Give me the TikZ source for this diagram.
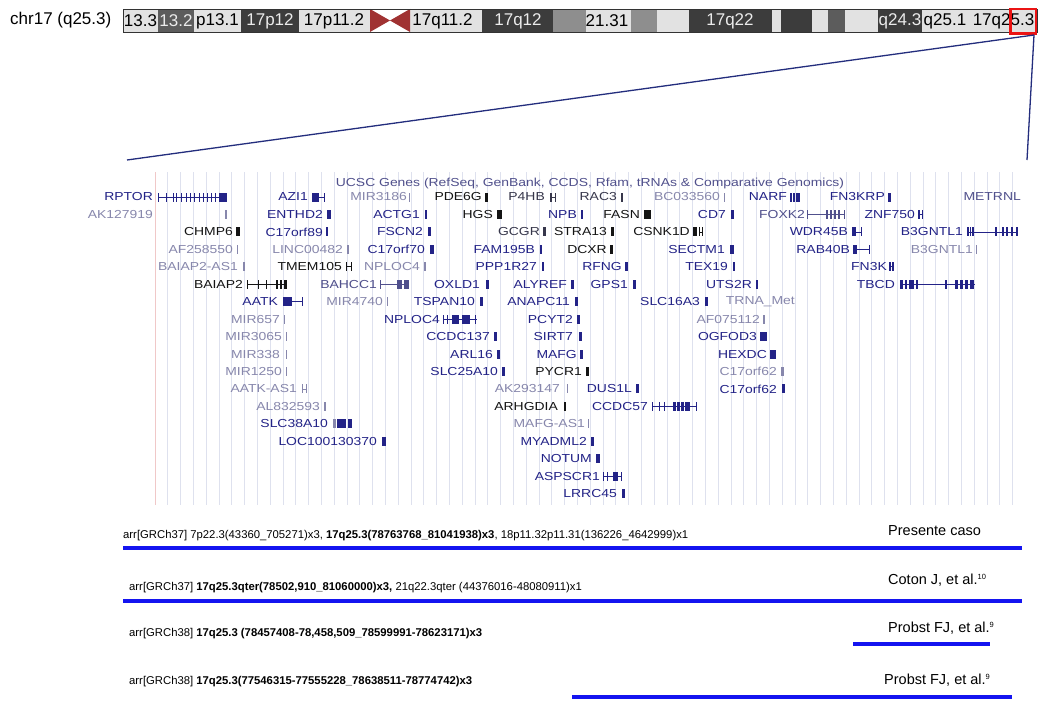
\documentclass[tikz,border=0pt]{standalone}
\usepackage{fontspec}
\setmainfont{Liberation Sans}
\usepackage{graphicx}
\definecolor{lg}{RGB}{226,226,226}
\definecolor{md}{RGB}{92,92,92}
\definecolor{dk}{RGB}{60,60,60}
\definecolor{mg}{RGB}{142,142,142}
\definecolor{cen}{RGB}{160,50,50}
\definecolor{zred}{RGB}{235,20,20}
\definecolor{zline}{RGB}{35,45,125}
\definecolor{gnav}{RGB}{35,35,135}
\definecolor{gblk}{RGB}{20,20,20}
\definecolor{ggry}{RGB}{135,135,172}
\definecolor{gmed}{RGB}{80,80,140}
\definecolor{gdrk}{RGB}{55,55,75}
\definecolor{gridc}{RGB}{222,225,238}
\definecolor{gridp}{RGB}{240,200,200}
\definecolor{barblue}{RGB}{20,20,240}
\definecolor{btw}{RGB}{235,235,235}
\newcommand\gexon[4]{\fill[#1] (#2,{197+17.45*(#4-1)-4.5}) rectangle (#3,{197+17.45*(#4-1)+4.5});}
\newcommand\gintron[4]{\draw[#1,line width=0.8pt] (#2,{197+17.45*(#4-1)}) -- (#3,{197+17.45*(#4-1)});}
\newcommand\refsup[1]{\raisebox{4.5pt}{\fontsize{7.5}{8}\selectfont #1}}
\begin{document}
\begin{tikzpicture}[x=1pt,y=-1pt,
  glab/.style={inner sep=0pt, anchor=east, font=\fontsize{11.6}{12}\selectfont},
  btxt/.style={inner sep=0pt, font=\fontsize{17}{19}\selectfont},
  arrtxt/.style={inner sep=0pt, anchor=west, font=\fontsize{11.3}{13}\selectfont},
  reftxt/.style={inner sep=0pt, anchor=west, font=\fontsize{14.5}{16}\selectfont},
  bar/.style={draw=barblue, line width=4.5pt},
  zl/.style={draw=zline, line width=1.3pt}]
\useasboundingbox (0,0) rectangle (1047,701);
\fill[white] (0,0) rectangle (1047,701);
% ---------- ideogram ----------
\node[btxt, anchor=west] (chr) at (10,20.5) {chr17 (q25.3)};
\foreach \a/\b/\c in {123/158/lg,158/194/md,194/241/lg,241/299/dk,299/370/lg,
  410/482/lg,482/553/dk,553/586/mg,586/631/lg,631/657/mg,657/689/lg,689/772/dk,
  772/781/lg,781/812/dk,812/828/lg,828/845/md,845/878/lg,878/922/dk,922/968/lg,968/1037/lg}
  {\fill[\c] (\a,9) rectangle (\b,32);}
\fill[cen] (370,9) -- (390,20.5) -- (370,32) -- cycle;
\fill[cen] (410,9) -- (390,20.5) -- (410,32) -- cycle;
\draw[black!80, line width=0.8pt] (123,9) rectangle (1037,32);
\foreach \xc/\lab/\tc [count=\i] in {140.5/13.3/black,176/13.2/btw,217.5/p13.1/black,270/17p12/btw,
  334/17p11.2/black,442.5/17q11.2/black,518/17q12/btw,607/21.31/black,730/17q22/btw,
  900/q24.3/btw,945/q25.1/black,1003.5/17q25.3/black}
  {\node[btxt, text=\tc] (band\i) at (\xc,21) {\lab};}
\node[draw=zred, line width=2.5pt, minimum width=25.5pt, minimum height=24.5pt, inner sep=0pt] (zbox) at (1023,21.5) {};
\coordinate (pl) at (127,160);
\coordinate (pr) at (1027,160);
\draw[zl] ([xshift=-3pt]zbox.south east) -- (pl);
\draw[zl] ([xshift=-3pt]zbox.south east) -- (pr);
% ---------- gene panel ----------
\foreach \k in {1,...,67}
  {\draw[gridc, line width=0.8pt] ({155+12.8*\k},172) -- ({155+12.8*\k},505);}
\draw[gridp, line width=0.9pt] (155,172) -- (155,505);
\node[font=\fontsize{11.6}{12}\selectfont, text=gmed, inner sep=0pt] (title) at (590,183)
  {\scalebox{1.2}[1]{UCSC Genes (RefSeq, GenBank, CCDS, Rfam, tRNAs \& Comparative Genomics)}};
\foreach \xr/\r/\c/\lab/\gs/\ge [count=\i] in {
153/1/gnav/RPTOR/0/0, 308/1/gnav/AZI1/0/0, 407/1/ggry/MIR3186/409/410.2, 482/1/gblk/PDE6G/485/488,
545/1/gdrk/P4HB/0/0, 617/1/gdrk/RAC3/621/623, 720/1/ggry/BC033560/724/725.2, 787/1/gnav/NARF/0/0,
885/1/gnav/FN3KRP/888/891, 1021/1/gmed/METRNL/0/0,
153/2/ggry/AK127919/225/226.5, 323/2/gnav/ENTHD2/327/330.5, 420/2/gnav/ACTG1/425/427, 493/2/gblk/HGS/497/502,
577/2/gnav/NPB/581/583, 640/2/gblk/FASN/644/651, 726/2/gnav/CD7/731/734, 805/2/gmed/FOXK2/0/0,
915/2/gnav/ZNF750/0/0,
233/3/gblk/CHMP6/236/240, 323/3/gnav/C17orf89/326/328, 423/3/gnav/FSCN2/428/431, 540/3/gdrk/GCGR/543/546,
607/3/gblk/STRA13/611/614, 690/3/gblk/CSNK1D/0/0, 848/3/gnav/WDR45B/0/0, 963/3/gnav/B3GNTL1/0/0,
233/4/ggry/AF258550/237/238.2, 343/4/ggry/LINC00482/347/349, 425/4/gnav/C17orf70/430/434,
535/4/gnav/FAM195B/540/542, 607/4/gblk/DCXR/610/613, 725/4/gnav/SECTM1/730/734, 850/4/gnav/RAB40B/0/0,
973/4/ggry/B3GNTL1/976/977.2,
238/5/ggry/BAIAP2-AS1/243/245, 342/5/gblk/TMEM105/0/0, 420/5/ggry/NPLOC4/424/426, 537/5/gnav/PPP1R27/542/544,
622/5/gnav/RFNG/625/628, 728/5/gnav/TEX19/733/735, 887/5/gnav/FN3K/0/0,
243/6/gblk/BAIAP2/0/0, 377/6/gmed/BAHCC1/0/0, 480/6/gnav/OXLD1/486/489, 567/6/gnav/ALYREF/571/574,
628/6/gnav/GPS1/633/636, 752/6/gnav/UTS2R/756/758, 895/6/gnav/TBCD/0/0,
278/7/gnav/AATK/0/0, 383/7/ggry/MIR4740/387/388.2, 475/7/gnav/TSPAN10/480/483, 570/7/gnav/ANAPC11/575/578,
700/7/gnav/SLC16A3/705/708, 795/7/ggry/TRNA\_Met/0/0,
280/8/ggry/MIR657/284/285.2, 440/8/gnav/NPLOC4/0/0, 573/8/gnav/PCYT2/577/580, 760/8/ggry/AF075112/763/764.5,
282/9/ggry/MIR3065/286/287.2, 490/9/gnav/CCDC137/494/497, 573/9/gnav/SIRT7/579/582, 757/9/gnav/OGFOD3/760/767,
280/10/ggry/MIR338/286/287.2, 493/10/gnav/ARL16/497/500, 577/10/gnav/MAFG/580/583, 767/10/gnav/HEXDC/770/776,
282/11/ggry/MIR1250/286/287.2, 498/11/gnav/SLC25A10/502/505, 582/11/gblk/PYCR1/586/589, 777/11/ggry/C17orf62/781/784,
297/12/ggry/AATK-AS1/0/0, 560/12/ggry/AK293147/567/568, 632/12/gnav/DUS1L/636/639, 777/12/gnav/C17orf62/782/785,
320/13/ggry/AL832593/324/326, 558/13/gblk/ARHGDIA/564/566, 648/13/gnav/CCDC57/0/0,
328/14/gnav/SLC38A10/0/0, 585/14/ggry/MAFG-AS1/588/589.2,
377/15/gnav/LOC100130370/382/386, 587/15/gnav/MYADML2/591/594,
592/16/gnav/NOTUM/596/600, 600/17/gnav/ASPSCR1/0/0, 617/18/gnav/LRRC45/622/625}
{\pgfmathsetmacro\yy{197+17.45*(\r-1)}
 \node[glab, text=\c] (g\i) at (\xr,\yy) {\scalebox{1.2}[1]{\lab}};
 \ifdim\gs pt>0pt \fill[\c] (\gs,\yy-4.5) rectangle (\ge,\yy+4.5); \fi}
% complex gene structures
\gintron{gnav}{158}{227}{1}
\foreach \e in {158,166,173,176,181,186,190,194,199,203,207,211,215}{\gexon{gnav}{\e}{\e+1.4}{1}}
\gexon{gnav}{219}{227}{1}
\gexon{gnav}{312}{319}{1}\gintron{gnav}{319}{325}{1}\gexon{gnav}{324}{325.3}{1}
\gintron{gdrk}{550}{556}{1}\gexon{gdrk}{550}{551.5}{1}\gexon{gdrk}{554.5}{556}{1}
\gexon{gnav}{790}{792.2}{1}\gexon{gnav}{793.2}{795.4}{1}\gexon{gnav}{796.4}{800}{1}
\gintron{gmed}{807}{845}{2}\gexon{gmed}{807}{808.2}{2}
\foreach \e in {826,830,834,838}{\gexon{gmed}{\e}{\e+2}{2}}\gexon{gmed}{844}{845.3}{2}
\gexon{gnav}{918}{920}{2}\gintron{gnav}{920}{922.3}{2}\gexon{gnav}{921.5}{922.5}{2}
\gexon{gblk}{693}{697}{3}\gexon{gblk}{698.5}{700}{3}\gintron{gblk}{700}{702.5}{3}\gexon{gblk}{701.5}{702.7}{3}
\gexon{gnav}{852}{856}{3}\gintron{gnav}{856}{862}{3}\gexon{gnav}{861}{862.3}{3}
\gintron{gnav}{967}{1017}{3}
\foreach \e in {967,969.5,972,995,1002,1006,1011,1016}{\gexon{gnav}{\e}{\e+1.6}{3}}
\gexon{gnav}{853}{857}{4}\gintron{gnav}{857}{870}{4}\gexon{gnav}{869}{870.3}{4}
\gintron{gblk}{346}{352}{5}\gexon{gblk}{345.5}{346.7}{5}\gexon{gblk}{350.5}{352}{5}
\gintron{gnav}{889}{893.5}{5}\gexon{gnav}{889}{890.5}{5}\gexon{gnav}{892}{893.5}{5}
\gintron{gblk}{247}{287}{6}
\foreach \e in {247,258,266}{\gexon{gblk}{\e}{\e+1.3}{6}}
\gexon{gblk}{276}{278}{6}\gexon{gblk}{280}{282}{6}\gexon{gblk}{284}{287}{6}
\gintron{gmed}{380}{409}{6}\gexon{gmed}{380}{381.2}{6}\gexon{gmed}{397}{402}{6}\gexon{gmed}{404}{409}{6}
\gintron{gnav}{900}{975}{6}
\foreach \e/\f in {900/903,905/907,909/914,916/918,945/947,955/958,960/963,965/968,970/974}{\gexon{gnav}{\e}{\f}{6}}
\gexon{gnav}{283}{292}{7}\gintron{gnav}{292}{303}{7}\gexon{gnav}{302}{303.3}{7}
\gintron{gnav}{443}{477}{8}\gexon{gnav}{443}{444.3}{8}\gexon{gnav}{447}{448.3}{8}
\gexon{gnav}{452}{459}{8}\gexon{gnav}{462}{470}{8}\gexon{gnav}{475}{476.3}{8}
\gintron{ggry}{302}{306.7}{12}\gexon{ggry}{302}{303.2}{12}\gexon{ggry}{305.5}{306.7}{12}
\gintron{gnav}{652}{697}{13}
\foreach \e in {652,659,664,696}{\gexon{gnav}{\e}{\e+1.3}{13}}
\gexon{gnav}{673}{676}{13}\gexon{gnav}{677}{680}{13}\gexon{gnav}{681}{684}{13}\gexon{gnav}{685}{690}{13}
\gexon{ggry}{333}{335.5}{14}\gexon{gnav}{337}{346}{14}\gexon{gnav}{347.5}{351.5}{14}
\gintron{gnav}{603}{622}{17}\gexon{gnav}{603}{604.3}{17}\gexon{gnav}{606.5}{607.8}{17}
\gexon{gnav}{613}{618}{17}\gexon{gnav}{621}{622.3}{17}
% ---------- CNV bars ----------
\node[arrtxt] (t1) at (123,536) {arr[GRCh37] 7p22.3(43360\_705271)x3, \textbf{17q25.3(78763768\_81041938)x3}, 18p11.32p11.31(136226\_4642999)x1};
\node[arrtxt] (t2) at (129,588) {arr[GRCh37] \textbf{17q25.3qter(78502,910\_81060000)x3,} 21q22.3qter (44376016-48080911)x1};
\node[arrtxt] (t3) at (129,634) {arr[GRCh38] \textbf{17q25.3 (78457408-78,458,509\_78599991-78623171)x3}};
\node[arrtxt] (t4) at (129,682) {arr[GRCh38] \textbf{17q25.3(77546315-77555228\_78638511-78774742)x3}};
\node[reftxt] (r1) at (888,531) {Presente caso};
\node[reftxt] (r2) at (888,580) {Coton J, et al.\refsup{10}};
\node[reftxt] (r3) at (888,628) {Probst FJ, et al.\refsup{9}};
\node[reftxt] (r4) at (884,680) {Probst FJ, et al.\refsup{9}};
\coordinate (b1a) at (123,548); \coordinate (b1b) at (1022,548);
\coordinate (b2a) at (123,601); \coordinate (b2b) at (1022,601);
\coordinate (b3a) at (853,644); \coordinate (b3b) at (990,644);
\coordinate (b4a) at (572,697); \coordinate (b4b) at (1012,697);
\draw[bar] (b1a) -- (b1b);
\draw[bar] (b2a) -- (b2b);
\draw[bar] (b3a) -- (b3b);
\draw[bar] (b4a) -- (b4b);
\end{tikzpicture}
\end{document}
